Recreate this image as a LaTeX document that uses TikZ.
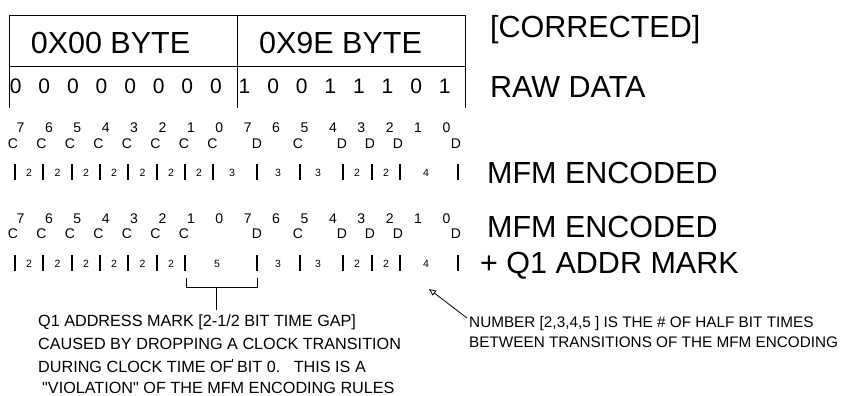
\documentclass[tikz,border=0pt]{standalone}
\usepackage{fontspec}
\setmainfont{Liberation Sans}
\newfontfamily\plainsans{Liberation Sans}
\usetikzlibrary{arrows.meta}
\begin{document}
\begin{tikzpicture}[x=1pt,y=-1pt,
  hdr/.style={font=\fontsize{30.5}{36}\selectfont, anchor=base, inner sep=0pt},
  biglbl/.style={font=\fontsize{30.5}{36}\selectfont, anchor=base west, inner sep=0pt},
  rawd/.style={font=\fontsize{21}{25}\selectfont, anchor=base, inner sep=0pt},
  bitn/.style={font=\fontsize{14}{16}\selectfont, anchor=base, inner sep=0pt},
  cdl/.style={font=\fontsize{14}{16}\selectfont, anchor=base, inner sep=0pt},
  tnum/.style={font=\fontsize{10.5}{12}\selectfont, anchor=base, inner sep=0pt},
  note/.style={font=\plainsans\fontsize{16.2}{20}\selectfont, anchor=base west, inner sep=0pt},
  notr/.style={font=\plainsans\fontsize{15.3}{20}\selectfont, anchor=base west, inner sep=0pt},
  tline/.style={line width=0.9pt},
  tbar/.style={line width=2.5pt},
  thin/.style={line width=0.8pt}]
\useasboundingbox (0,0) rectangle (843,396);

% table
\coordinate (tl) at (9,15);   \coordinate (tm) at (237,15);  \coordinate (tr) at (465,15);
\coordinate (ml) at (9,66);   \coordinate (mr) at (465,66);
\coordinate (bl) at (9,108);  \coordinate (bm) at (237,108); \coordinate (br) at (465,108);
\draw[tline] (tl) -- (tr);
\draw[tline] (ml) -- (mr);
\draw[tline] (tl) -- (bl);
\draw[tline] (tm) -- (bm);
\draw[tline] (tr) -- (br);
\node[hdr] (h0) at (110.5,53) {0X00 BYTE};
\node[hdr] (h1) at (340.5,53) {0X9E BYTE};

% raw data
\foreach \v [count=\i from 0] in {0,0,0,0,0,0,0,0,1,0,0,1,1,1,0,1}
  \node[rawd] (raw\i) at ({15.7+28.6*\i},93) {\v};

% bit numbers
\foreach \v [count=\i from 0] in {7,6,5,4,3,2,1,0,7,6,5,4,3,2,1,0} {
  \node[bitn] (bna\i) at ({20.5+28.4*\i},132) {\v};
  \node[bitn] (bnb\i) at ({20.5+28.4*\i},223) {\v};
}

% clock / data letters
\foreach \i in {0,...,7}
  \node[cdl] (ca\i) at ({13+28.5*\i},148) {C};
\foreach \i in {0,...,6}
  \node[cdl] (cb\i) at ({13+28.5*\i},238) {C};
\foreach \x/\l [count=\j] in {257/D,298/C,342/D,370/D,398/D,456/D} {
  \node[cdl] (da\j) at (\x,148) {\l};
  \node[cdl] (db\j) at (\x,238) {\l};
}

% transitions set 1
\foreach \x [count=\j] in {15,43,72,100,128,157,185,213,257,300,343,372,400,458} {
  \coordinate (ta\j) at (\x,164); \coordinate (tb\j) at (\x,180);
  \draw[tbar] (ta\j) -- (tb\j);
}
\foreach \x/\n [count=\j] in {29/2,57.5/2,86/2,114/2,142.5/2,171/2,199/2,232/3,278/3,318/3,357/2,386/2,426/4}
  \node[tnum] (na\j) at (\x,176.5) {\n};

% transitions set 2
\foreach \x [count=\j] in {15,43,72,100,128,157,185,257,300,343,372,400,458} {
  \coordinate (ua\j) at (\x,255); \coordinate (ub\j) at (\x,271);
  \draw[tbar] (ua\j) -- (ub\j);
}
\foreach \x/\n [count=\j] in {29/2,57.5/2,86/2,114/2,142.5/2,171/2,217/5,278/3,318/3,357/2,386/2,426/4}
  \node[tnum] (nb\j) at (\x,267) {\n};

% right labels
\node[biglbl] (corr) at (490,38) {[CORRECTED]};
\node[biglbl] (rawl) at (490,97) {RAW DATA};
\node[biglbl] (mfm1) at (487,183) {MFM ENCODED};
\node[biglbl] (mfm2) at (487,237) {MFM ENCODED};
\node[biglbl] (q1) at (480,273) {+ Q1 ADDR MARK};

% bracket
\coordinate (bk1) at (186,278); \coordinate (bk2) at (186,287);
\coordinate (bk3) at (257,287); \coordinate (bk4) at (257,278);
\coordinate (st1) at (216,287); \coordinate (st2) at (216,310);
\draw[thin] (bk1) -- (bk2) -- (bk3) -- (bk4);
\draw[thin] (st1) -- (st2);

% left note
\node[note] (l1) at (38,326) {Q1 ADDRESS MARK [2-1/2 BIT TIME GAP]};
\node[note] (l2) at (38,349) {CAUSED BY DROPPING A CLOCK TRANSITION};
\node[note] (l3) at (38,372) {DURING CLOCK TIME OF\kern-0.9pt\rule[9.8pt]{0.7pt}{3.6pt}\kern0.2pt\ BIT 0.\ \ \ THIS IS A};
\node[note] (l4) at (42,393) {"VIOLATION" OF THE MFM ENCODING RULES};

% right note with arrow
\coordinate (arS) at (467,318);
\coordinate (arT) at (429,289);
\draw[thin,-{Triangle[open,length=7pt,width=6pt]}] (arS) -- (arT);
\node[notr] (r1) at (469,327) {NUMBER [2,3,4,5 ] IS THE \# OF HALF BIT TIMES};
\node[notr] (r2) at (469,347) {BETWEEN TRANSITIONS OF THE MFM ENCODING};
\end{tikzpicture}
\end{document}
